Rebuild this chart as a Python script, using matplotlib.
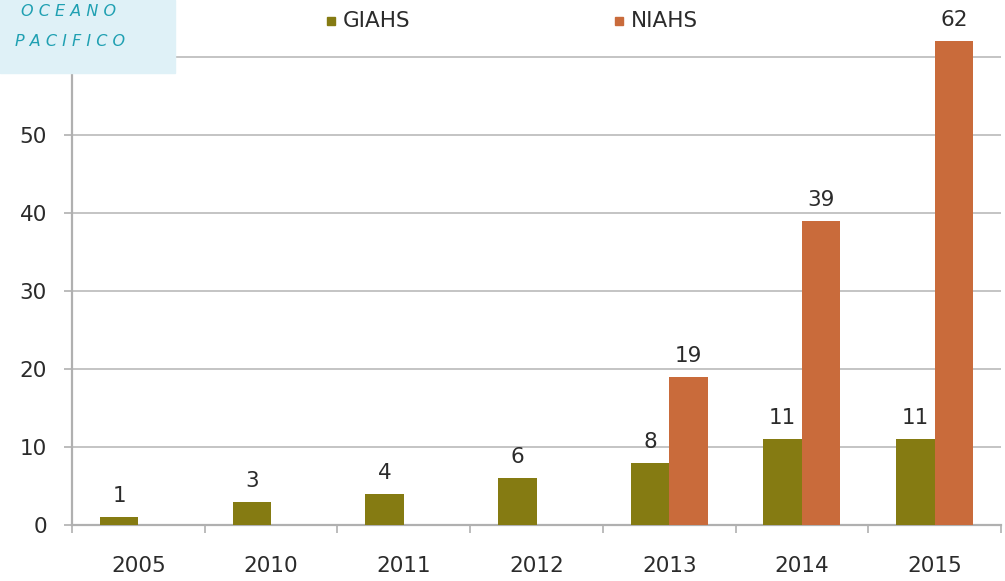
import matplotlib
matplotlib.use("Agg")
import matplotlib.pyplot as plt
import numpy as np

years = ["2005", "2010", "2011", "2012", "2013", "2014", "2015"]
giahs = [1, 3, 4, 6, 8, 11, 11]
niahs = [None, None, None, None, 19, 39, 62]
yticks = [0, 10, 20, 30, 40, 50, 60]

C_G = "#857b12"
C_N = "#c96b3b"
TXT = "#2b2b2b"
FS = 15.5

W, H = 1005, 581
fig = plt.figure(figsize=(W / 100, H / 100), dpi=100)
ax = fig.add_axes([72 / W, (H - 525) / H, (1001 - 72) / W, 525 / H])

x = np.arange(len(years))
bw = 0.29
for i, v in enumerate(giahs):
    ax.bar(x[i] - bw / 2, v, width=bw, color=C_G, zorder=3)
    ax.text(x[i] - bw / 2, v + 1.4, str(v), ha="center", va="bottom",
            fontsize=FS, color=TXT, zorder=4)
for i, v in enumerate(niahs):
    if v is None:
        continue
    ax.bar(x[i] + bw / 2, v, width=bw, color=C_N, zorder=3)
    ax.text(x[i] + bw / 2, v + 1.4, str(v), ha="center", va="bottom",
            fontsize=FS, color=TXT, zorder=4)

ax.set_xlim(-0.5, len(years) - 0.5)
ax.set_ylim(0, 525 / 7.8)
ax.set_yticks(yticks)
ax.set_yticklabels([str(t) for t in yticks], fontsize=FS, color=TXT)
ax.yaxis.grid(True, color="#c4c4c4", linewidth=1.4, zorder=0)
ax.set_axisbelow(True)

ax.set_xticks(x)
ax.set_xticklabels(years, fontsize=FS, color=TXT)
ax.tick_params(axis="x", length=0, pad=22)
ax.set_xticks(np.arange(-0.5, len(years) + 0.5, 1), minor=True)
ax.tick_params(axis="x", which="minor", length=6, color="#b0b0b0", width=1.2)
ax.tick_params(axis="y", length=6, color="#b0b0b0", width=1.2, pad=12)

for s in ["top", "right"]:
    ax.spines[s].set_visible(False)
ax.spines["left"].set_color("#b0b0b0")
ax.spines["left"].set_linewidth(1.6)
ax.spines["bottom"].set_color("#b0b0b0")
ax.spines["bottom"].set_linewidth(1.6)

# legend
for xp, lab, c in [(327, "GIAHS", C_G), (615, "NIAHS", C_N)]:
    fig.patches.append(plt.Rectangle((xp / W, 1 - 25 / H), 8 / W, 8 / H,
                                     transform=fig.transFigure, color=c))
    fig.text((xp + 16) / W, 1 - 21 / H, lab, ha="left", va="center",
             fontsize=FS, color=TXT)

# overlay box
fig.patches.append(plt.Rectangle((0, 1 - 73 / H), 175 / W, 73 / H,
                                 transform=fig.transFigure, color="#dff1f7",
                                 zorder=10))
fig.text(69 / W, 1 - 12 / H, "O C E A N O", ha="center", va="center",
         fontsize=11.5, style="italic", color="#1fa0b2", zorder=11)
fig.text(70 / W, 1 - 42 / H, "P A C I F I C O", ha="center", va="center",
         fontsize=11.5, style="italic", color="#1fa0b2", zorder=11)

fig.savefig("out.png", dpi=100)
